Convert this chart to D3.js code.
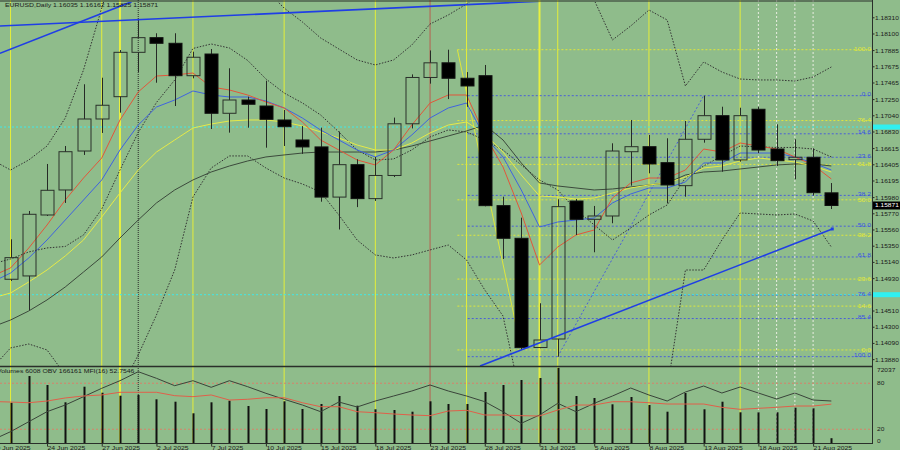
<!DOCTYPE html>
<html><head><meta charset="utf-8">
<script src="https://cdn.jsdelivr.net/npm/d3@7"></script>
<style>body{margin:0;background:#8fbc8b;}svg{display:block}</style>
</head><body><svg id="c" width="900" height="450"></svg>
<script>
// ---------- DATA ----------
const tickIdx = [0,3,6,9,12,15,18,21,24,27,30,33,36,39,42,45];
const tickLabels = ["19 Jun 2025","24 Jun 2025","27 Jun 2025","2 Jul 2025","7 Jul 2025","10 Jul 2025","15 Jul 2025","18 Jul 2025","23 Jul 2025","28 Jul 2025","31 Jul 2025","5 Aug 2025","8 Aug 2025","13 Aug 2025","18 Aug 2025","21 Aug 2025"];
const open  = [1.1470,1.14915,1.14958,1.15748,1.16072,1.16577,1.16992,1.17281,1.17856,1.18046,1.17973,1.17553,1.17834,1.17066,1.17238,1.17160,1.16979,1.16720,1.16630,1.15980,1.16400,1.15960,1.16260,1.16930,1.17530,1.17720,1.17520,1.17553,1.15869,1.15446,1.14031,1.14141,1.15929,1.15692,1.15735,1.16568,1.16633,1.16426,1.16128,1.16729,1.17035,1.16461,1.17118,1.16603,1.16465,1.16496,1.16035];
const high  = [1.1500,1.15433,1.15800,1.16409,1.16642,1.17442,1.17527,1.17886,1.18290,1.18103,1.18103,1.17864,1.17899,1.17649,1.17281,1.17488,1.17109,1.16900,1.16880,1.16830,1.16470,1.16500,1.17010,1.17570,1.17880,1.17890,1.17600,1.17692,1.15985,1.15713,1.14604,1.15952,1.15955,1.15865,1.16677,1.16979,1.16785,1.16742,1.16966,1.17294,1.17151,1.17138,1.17151,1.16923,1.16729,1.16612,1.16162];
const low   = [1.1455,1.14893,1.14517,1.15735,1.15904,1.16526,1.16811,1.17074,1.17601,1.17462,1.17160,1.17519,1.16862,1.16815,1.16879,1.16620,1.16642,1.16540,1.15920,1.15560,1.15850,1.15930,1.16240,1.16870,1.17450,1.17250,1.17150,1.15860,1.15178,1.13999,1.14021,1.13912,1.15489,1.15265,1.15641,1.16128,1.16288,1.15900,1.15985,1.16685,1.16309,1.16439,1.16548,1.16383,1.16211,1.16000,1.15825];
const close = [1.1490,1.15195,1.15757,1.16068,1.16568,1.16992,1.17170,1.17856,1.18046,1.17973,1.17553,1.17792,1.17066,1.17238,1.17183,1.16988,1.16892,1.16630,1.15980,1.16400,1.15960,1.16260,1.16930,1.17530,1.17720,1.17520,1.17420,1.15869,1.15446,1.14029,1.14128,1.15856,1.15692,1.15735,1.16577,1.16633,1.16409,1.16137,1.16729,1.17035,1.16461,1.17035,1.16590,1.16452,1.16496,1.16037,1.15871];
const volume = [42000,39340,64400,55960,39720,54370,48730,45920,46570,42540,40280,29390,39720,41220,36250,33430,40660,33430,38120,45640,36530,33150,32490,30890,40660,38120,38120,49390,55960,60660,62540,72037,45640,43760,37840,44700,37180,30890,48450,33150,40280,30330,30330,30330,34650,34090,6008];
const maRed    = [1.14958,1.15061,1.15320,1.15618,1.15942,1.16227,1.16487,1.16979,1.17342,1.17549,1.17562,1.17588,1.17407,1.17368,1.17303,1.17212,1.17135,1.16953,1.16720,1.16590,1.16461,1.16396,1.16590,1.16914,1.17199,1.17303,1.17303,1.16785,1.16370,1.15774,1.15100,1.15333,1.15489,1.15554,1.15968,1.16163,1.16227,1.16227,1.16331,1.16603,1.16564,1.16681,1.16642,1.16603,1.16500,1.16396,1.16215];
const maBlue   = [1.14880,1.14996,1.15191,1.15424,1.15683,1.15942,1.16202,1.16590,1.16914,1.17147,1.17238,1.17355,1.17303,1.17277,1.17277,1.17225,1.17135,1.17005,1.16849,1.16720,1.16590,1.16500,1.16590,1.16785,1.17005,1.17135,1.17199,1.16759,1.16500,1.16072,1.15592,1.15657,1.15683,1.15709,1.15904,1.16020,1.16098,1.16098,1.16176,1.16422,1.16422,1.16551,1.16551,1.16551,1.16500,1.16422,1.16331];
const maYellow = [1.14672,1.14737,1.14880,1.15035,1.15217,1.15424,1.15722,1.16033,1.16331,1.16564,1.16720,1.16875,1.16927,1.16966,1.16979,1.16979,1.16953,1.16901,1.16824,1.16746,1.16655,1.16590,1.16590,1.16681,1.16811,1.16914,1.16953,1.16798,1.16564,1.16266,1.15994,1.15981,1.15955,1.15968,1.16033,1.16098,1.16137,1.16163,1.16240,1.16357,1.16383,1.16448,1.16487,1.16461,1.16435,1.16383,1.16305];
const maGray   = [1.14297,1.14387,1.14504,1.14647,1.14815,1.15009,1.15204,1.15450,1.15683,1.15904,1.16072,1.16202,1.16305,1.16383,1.16448,1.16500,1.16526,1.16551,1.16564,1.16564,1.16564,1.16564,1.16590,1.16642,1.16707,1.16772,1.16837,1.16914,1.16720,1.16422,1.16163,1.16124,1.16098,1.16072,1.16085,1.16111,1.16137,1.16163,1.16266,1.16305,1.16318,1.16344,1.16370,1.16396,1.16409,1.16409,1.16383];
const bbUpper  = [1.16461,1.16331,1.16461,1.16642,1.17005,1.17627,1.18430,1.19182,1.19700,1.19959,1.19959,1.19830,1.19571,1.19311,1.18988,1.18664,1.18430,1.18249,1.18042,1.17899,1.17757,1.17692,1.17757,1.17951,1.18223,1.18340,1.18482,1.18664,1.18741,1.19441,1.19700,1.19571,1.19052,1.18534,1.18016,1.18197,1.18404,1.18275,1.17420,1.17731,1.17601,1.17510,1.17498,1.17498,1.17484,1.17536,1.17666];
const bbMid    = [1.15113,1.15178,1.15269,1.15321,1.15340,1.15489,1.15826,1.16331,1.16817,1.17206,1.17497,1.17906,1.17964,1.17912,1.17751,1.17511,1.17329,1.17200,1.17044,1.16824,1.16591,1.16461,1.16474,1.16591,1.16759,1.16850,1.16824,1.16720,1.16590,1.16396,1.16202,1.16072,1.15813,1.15619,1.15424,1.15580,1.15748,1.15878,1.16228,1.16383,1.16513,1.16642,1.16630,1.16623,1.16623,1.16603,1.16500];
const bbLower  = [1.13765,1.14025,1.14076,1.13999,1.13675,1.13351,1.13221,1.13480,1.13934,1.14452,1.15035,1.15981,1.16357,1.16513,1.16513,1.16357,1.16227,1.16150,1.16046,1.15748,1.15424,1.15230,1.15191,1.15230,1.15295,1.15359,1.15165,1.14776,1.14439,1.13351,1.12703,1.12573,1.12573,1.12703,1.12832,1.12962,1.13092,1.13480,1.15035,1.15035,1.15424,1.15774,1.15761,1.15748,1.15761,1.15670,1.15333];
const mfi = [56.2,55.5,54.6,56.8,60.8,63.4,64.7,68.2,68.2,68.2,63.8,62.5,64.7,58.1,59.1,61.1,61.1,54.6,49.4,49.4,42.9,41.6,39.9,38.6,37.7,43.8,44.7,38.6,38.6,37.7,37.3,45.1,51.6,51.6,55.9,55.9,54.6,52.9,52.9,52.9,48.6,46.0,47.3,48.6,50.3,50.3,52.7546];
const obv = [-44439,381,54381,108381,144561,189381,234741,275781,324381,288741,248781,275781,240141,275781,243381,207741,175341,144561,108381,160761,133761,166161,193161,220161,252561,220161,193161,162381,108381,45741,90561,153741,108381,153741,193161,236361,198561,166161,214761,247161,209361,241761,209361,176961,209361,171561,166161];
const priceTicks = [1.18310,1.18100,1.17885,1.17675,1.17465,1.17250,1.17040,1.16830,1.16615,1.16405,1.16195,1.15980,1.15770,1.15560,1.15350,1.15140,1.14930,1.14720,1.14510,1.14300,1.14090,1.13880];
const fibLevels = [0,14.6,23.6,38.2,50,61.8,76.4,85.4,100];
const fibBlue = [1.17294,1.13912];        // 0 -> 100
const fibBlueAnchor = [31,39];
const fibYellowLevels = [0,14.6,23.6,38.2,50,61.8,76.4,100];
const fibYellow = [1.13999,1.17890];      // 0 -> 100
const fibYellowAnchor = [25.5,29];
const trendA = [[0.42,1.17843],[7.64,1.18512]];
const trendB = [[0.42,1.18197],[30.3,1.18521]];
const trendC = [[26.74,1.13791],[46.05,1.15567]];
const cyanLines = [1.16888,1.14715];
const fridays = [1,6,11,16,21,26,31,36,41];
const monthEnds = [7,30];
const weekDays = [42,43,44,45];
const sepBars = [8];
const redBars = [24];
const lastPrice = 1.15871;

// ---------- SCALES ----------
const svg = d3.select("#c");
const W = 873;
const x = d3.scaleLinear().domain([0,46]).range([-7.7,831.34]);
const y = d3.scaleLinear().domain([1.18534,1.13791]).range([0,366]);
const pTop=367.9, pBot=444.6;
const yVol = d3.scaleLinear().domain([0,72037]).range([pBot,pTop]);
const yMfi = d3.scaleLinear().domain([0,100]).range([pBot,pTop]);
const yObv = d3.scaleLinear().domain([-69279,344901]).range([pBot,pTop]);
const FONT = "Liberation Sans, Arial, sans-serif";
const SX = 1.25;

svg.append("rect").attr("width",900).attr("height",450).attr("fill","#8fbc8b");
const defs = svg.append("defs");
defs.append("clipPath").attr("id","cm").append("rect").attr("x",0).attr("y",2).attr("width",W).attr("height",364);
defs.append("clipPath").attr("id","cp").append("rect").attr("x",0).attr("y",367).attr("width",W).attr("height",77);
defs.append("clipPath").attr("id","ca").append("rect").attr("x",0).attr("y",0).attr("width",W).attr("height",444);

function txt(g, xx, yy, s, col, anchor, sx){
  return g.append("text").attr("transform",`translate(${xx},${yy}) scale(${sx||SX},1)`)
    .attr("font-family",FONT).attr("font-size",5.5).attr("fill",col||"#1a1a1a")
    .attr("text-anchor",anchor||"start").text(s);
}

// ---------- VERTICAL LINES ----------
const gv = svg.append("g").attr("clip-path","url(#ca)");
const vline = (i,col,w,dash)=>gv.append("line").attr("x1",x(i)).attr("x2",x(i)).attr("y1",0).attr("y2",444)
  .attr("stroke",col).attr("stroke-width",w).attr("stroke-dasharray",dash||null);
fridays.forEach(i=>vline(i,"#e4ee3a",1));
monthEnds.forEach(i=>vline(i,"#e8f040",2));
weekDays.forEach(i=>vline(i,"#e8ece0",1,"2,2"));
sepBars.forEach(i=>vline(i,"#2a2a2a",1,"1,1"));
redBars.forEach(i=>vline(i,"#b86050",1));

// ---------- MAIN CHART ----------
const gm = svg.append("g").attr("clip-path","url(#cm)");
fibLevels.forEach(L=>{
  const p = fibBlue[0] + (fibBlue[1]-fibBlue[0])*L/100;
  gm.append("line").attr("x1",x(fibBlueAnchor[0])-90).attr("x2",W).attr("y1",y(p)).attr("y2",y(p))
    .attr("stroke","#4a5fd8").attr("stroke-dasharray","2,2").attr("stroke-width",1);
});
fibYellowLevels.forEach(L=>{
  const p = fibYellow[0] + (fibYellow[1]-fibYellow[0])*L/100;
  gm.append("line").attr("x1",x(fibYellowAnchor[0])).attr("x2",W).attr("y1",y(p)).attr("y2",y(p))
    .attr("stroke","#dfe63c").attr("stroke-dasharray","2,2").attr("stroke-width",1);
});
cyanLines.forEach(p=>gm.append("line").attr("x1",0).attr("x2",W).attr("y1",y(p)).attr("y2",y(p))
    .attr("stroke","#40e8e8").attr("stroke-dasharray","2,2").attr("stroke-width",1));
gm.append("line").attr("x1",x(fibBlueAnchor[0])).attr("y1",y(fibBlue[1])).attr("x2",x(fibBlueAnchor[1])).attr("y2",y(fibBlue[0]))
  .attr("stroke","#4a5fd8").attr("stroke-dasharray","2,2");
gm.append("line").attr("x1",x(fibYellowAnchor[0])).attr("y1",y(fibYellow[1])).attr("x2",x(fibYellowAnchor[1])).attr("y2",y(fibYellow[0]))
  .attr("stroke","#dfe63c");

const line = d3.line().x((d,i)=>x(i)).y(d=>y(d));
[bbUpper,bbMid,bbLower].forEach(a=>
  gm.append("path").attr("d",line(a)).attr("fill","none").attr("stroke","#333").attr("stroke-width",1).attr("stroke-dasharray","1.5,1.5"));
[[maGray,"#3c4a3c"],[maYellow,"#e6ea48"],[maBlue,"#3f63e0"],[maRed,"#e2563a"]].forEach(([a,c])=>
  gm.append("path").attr("d",line(a)).attr("fill","none").attr("stroke",c).attr("stroke-width",1));

const bw = 13;
const cg = gm.append("g");
d3.range(open.length).forEach(i=>{
  const o=open[i],c=close[i],h=high[i],l=low[i];
  const top=y(Math.max(o,c)), bot=y(Math.min(o,c)), cx=Math.round(x(i))+0.5;
  cg.append("line").attr("x1",cx).attr("x2",cx).attr("y1",y(h)).attr("y2",top).attr("stroke","#262a26");
  cg.append("line").attr("x1",cx).attr("x2",cx).attr("y1",bot).attr("y2",y(l)).attr("stroke","#262a26");
  cg.append("rect").attr("x",cx-bw/2).attr("y",top).attr("width",bw).attr("height",Math.max(1,bot-top))
    .attr("fill",c<o?"#000":"none").attr("stroke",c<o?"#111":"#2a302a").attr("stroke-width",1);
});

[trendA,trendB,trendC].forEach(t=>{
  gm.append("line").attr("x1",x(t[0][0])).attr("y1",y(t[0][1])).attr("x2",x(t[1][0])).attr("y2",y(t[1][1]))
    .attr("stroke","#1f3ee6").attr("stroke-width",1.6);
});
gm.append("rect").attr("x",x(trendC[1][0])-1.5).attr("y",y(trendC[1][1])-1.5).attr("width",3).attr("height",3).attr("fill","#1f3ee6");

const gl = svg.append("g");
fibLevels.forEach(L=>{
  const p = fibBlue[0] + (fibBlue[1]-fibBlue[0])*L/100;
  txt(gl,871,y(p)+0.5,L.toFixed(1),"#3b55e0","end");
});
fibYellowLevels.forEach(L=>{
  const p = fibYellow[0] + (fibYellow[1]-fibYellow[0])*L/100;
  txt(gl,871,y(p)+1.8,L.toFixed(1),"#e2e83a","end");
});

// ---------- INDICATOR PANEL ----------
const gp = svg.append("g").attr("clip-path","url(#cp)");
[80,20].forEach(v=>gp.append("line").attr("x1",0).attr("x2",W).attr("y1",yMfi(v)).attr("y2",yMfi(v))
  .attr("stroke","#d8826a").attr("stroke-dasharray","2,2"));
volume.forEach((v,i)=>gp.append("rect").attr("x",Math.round(x(i))-0.5).attr("y",yVol(v)).attr("width",2).attr("height",pBot-yVol(v)).attr("fill","#111"));
gp.append("path").attr("d",d3.line().x((d,i)=>x(i)).y(d=>yObv(d))(obv)).attr("fill","none").attr("stroke","#3a443a").attr("stroke-width",1);
gp.append("path").attr("d",d3.line().x((d,i)=>x(i)).y(d=>yMfi(d))(mfi)).attr("fill","none").attr("stroke","#e0604a").attr("stroke-width",1);

// ---------- FRAME & AXES ----------
svg.append("line").attr("x1",0).attr("x2",W).attr("y1",1).attr("y2",1).attr("stroke","#2a2f2a");
svg.append("line").attr("x1",0).attr("x2",W).attr("y1",366.5).attr("y2",366.5).attr("stroke","#2a2f2a").attr("stroke-width",1.5);
svg.append("line").attr("x1",0).attr("x2",W).attr("y1",443.5).attr("y2",443.5).attr("stroke","#2a2f2a");
svg.append("line").attr("x1",W-0.5).attr("x2",W-0.5).attr("y1",0).attr("y2",444).attr("stroke","#2a2f2a");

const ay = svg.append("g").attr("transform",`translate(${W-0.5},0)`)
  .call(d3.axisRight(y).tickValues(priceTicks).tickFormat(d3.format(".5f")).tickSize(2));
ay.select(".domain").remove();
ay.selectAll("line").attr("stroke","#2a2f2a");
ay.selectAll("text").attr("x",0).attr("dy",null).attr("y",2)
  .attr("transform",`translate(2.5,0) scale(1.2,1)`).attr("font-family",FONT).attr("font-size",5.5).attr("fill","#1a1a1a");

const ax = svg.append("g").attr("transform",`translate(0,443.5)`)
  .call(d3.axisBottom(x).tickValues(tickIdx).tickFormat((d,k)=>tickLabels[k]).tickSize(3));
ax.select(".domain").remove();
ax.selectAll("line").attr("stroke","#2a2f2a");
ax.selectAll("text").attr("x",0).attr("y",6.8).attr("dy",null).attr("text-anchor","start")
  .attr("transform",`scale(${SX},1)`).attr("font-family",FONT).attr("font-size",5.5).attr("fill","#1a1a1a");

cyanLines.forEach(p=>svg.append("rect").attr("x",W).attr("y",y(p)-2.5).attr("width",900-W).attr("height",5).attr("fill","#30f0f0"));
svg.append("rect").attr("x",W).attr("y",y(lastPrice)-4).attr("width",900-W).attr("height",8).attr("fill","#000");
txt(svg,W+2,y(lastPrice)+2,lastPrice.toFixed(5),"#fff","start",1.2);

txt(svg,W+4,yVol(72037)+4,"72037","#1a1a1a","start",1.2);
txt(svg,W+4,yMfi(80)+2,"80","#1a1a1a","start",1.2);
txt(svg,W+4,yMfi(20)+2,"20","#1a1a1a","start",1.2);
txt(svg,W+4,yMfi(0)-2,"0","#1a1a1a","start",1.2);

txt(svg,5,6.5,`EURUSD,Daily  ${open[46].toFixed(5)} ${high[46].toFixed(5)} ${low[46].toFixed(5)} ${close[46].toFixed(5)}`);
txt(svg,-3,372.5,`Volumes ${volume[46]}  OBV ${obv[46]}  MFI(16) ${mfi[46].toFixed(4)}`);
</script></body></html>
